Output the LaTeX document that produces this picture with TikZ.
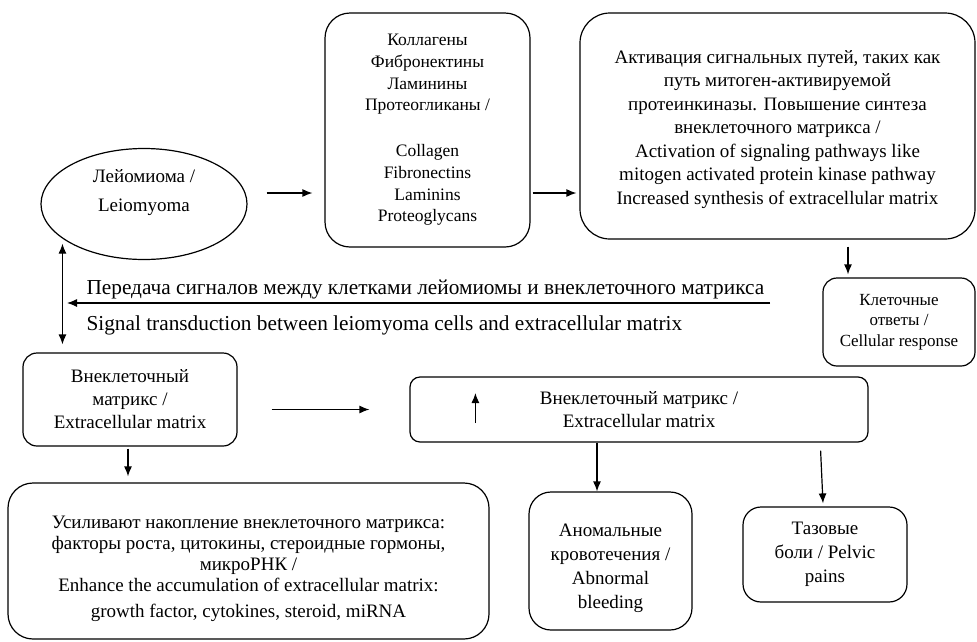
\documentclass[tikz,border=0pt]{standalone}
\usepackage{fontspec}
\setmainfont{Liberation Serif}
\usetikzlibrary{shapes.geometric, arrows.meta, positioning, calc}
\tikzset{
  box/.style={
	draw, % frame of every block
	line width=1.2pt,
	rounded corners=14pt,
	align=center,
	inner sep=0pt,
	font=\fontsize{19}{23.5}\selectfont,
  },
  oval/.style={
	ellipse, draw,
	line width=1.2pt,
	inner sep=0pt,
  },
  arr/.style={
	>={Latex[length=10pt,width=8pt]}, % filled heads
	->,
	line width=1.2pt,
  },
}

\begin{document}
\begin{tikzpicture}[x=1pt, y=-1pt]
	  \useasboundingbox (0,0) rectangle (977,641);

	  % top row
	  \node[oval, minimum width=206pt, minimum height=111pt] (leio) at (144,204) {};
	  \node[align=center, font=\fontsize{19}{29}\selectfont] (leiotext) at ([yshift=11.5pt]leio.center) {Лейомиома /\\Leiomyoma};
	  \node[box, rounded corners=25pt, minimum width=205pt, minimum height=234pt, font=\fontsize{17.5}{21.7}\selectfont] (comp) at (427.5,130) {Коллагены\\Фибронектины\\Ламинины\\Протеогликаны /\\[24pt]Collagen\\Fibronectins\\Laminins\\Proteoglycans};
	  \node[box, rounded corners=30pt, minimum width=395pt, minimum height=226pt] (activ) at (777.5,126) {\rule{0pt}{20pt}Активация сигнальных путей, таких как\\путь митоген-активируемой\\протеинкиназы. Повышение синтеза\\внеклеточного матрикса /\\Activation of signaling pathways like\\mitogen activated protein kinase pathway\\Increased synthesis of extracellular matrix};
	  \node[box, minimum width=152pt, minimum height=88pt, font=\fontsize{17}{20.5}\selectfont] (cellresp) at (899,322) {Клеточные\\ответы /\\Cellular response};

	  % signal transduction
	  \coordinate (sigR) at (770,303);
	  \coordinate (sigL) at (67,303);
	  \node[anchor=west, font=\fontsize{21.3}{25}\selectfont] (sigru) at (83,289) {Передача сигналов между клетками лейомиомы и внеклеточного матрикса};
	  \node[anchor=west, font=\fontsize{21.3}{25}\selectfont] (sigen) at (83,325) {Signal transduction between leiomyoma cells and extracellular matrix};

	  % middle and bottom rows
	  \node[box, minimum width=214pt, minimum height=93pt, font=\fontsize{19}{23}\selectfont] (ecm) at (130,399.5) {Внеклеточный\\матрикс /\\Extracellular matrix};
	  \node[box, rounded corners=10pt, minimum width=458pt, minimum height=65pt] (ecmup) at (639,409.5) {Внеклеточный матрикс /\\Extracellular matrix};
	  \node[box, rounded corners=25pt, minimum width=481pt, minimum height=156pt, font=\fontsize{19}{21}\selectfont] (enhance) at (248.5,561) {\rule{0pt}{28pt}Усиливают накопление внеклеточного матрикса:\\факторы роста, цитокины, стероидные гормоны,\\микроРНК /\\Enhance the accumulation of extracellular matrix:\\[5pt]growth factor, cytokines, steroid, miRNA};
	  \node[box, rounded corners=22pt, minimum width=163pt, minimum height=138pt, font=\fontsize{19}{24}\selectfont] (bleed) at (610.5,561) {\rule{0pt}{27pt}Аномальные\\кровотечения /\\Abnormal\\bleeding};
	  \node[box, rounded corners=18pt, minimum width=164pt, minimum height=95pt, font=\fontsize{19}{24}\selectfont] (pain) at (825,554.5) {Тазовые\\боли / Pelvic\\pains};

	  % connectors
	  \coordinate (crtop) at ([xshift=-51pt]cellresp.north);
	  \coordinate (bltop) at ([xshift=-13.5pt]bleed.north);
	  \coordinate (ecmdown) at ([xshift=-2pt]ecm.south);
	  \draw[arr] ([xshift=19pt,yshift=11pt]leio.east) -- ([xshift=-12pt,yshift=-63pt]comp.west);
	  \draw[arr] ([xshift=2pt,yshift=-63pt]comp.east) -- ([xshift=-3pt,yshift=-67pt]activ.west);
	  \draw[arr, shorten <=7pt, shorten >=3pt] (crtop |- activ.south) -- (crtop);
	  \draw[arr] (sigR) -- (sigL);
	  \draw[arr, <->, shorten <=5pt, shorten >=8pt] (leio.203) -- (leio.203 |- ecm.north);
	  \draw[arr] ([xshift=34pt,yshift=-10pt]ecm.east) -- ([xshift=-40pt]ecmup.west);
	  \draw[arr] ([xshift=66pt,yshift=-13.5pt]ecmup.west) -- ([xshift=66pt,yshift=16.5pt]ecmup.west);
	  \draw[arr] (bltop |- ecmup.south) -- (bltop);
	  \draw[arr] ([xshift=-48pt,yshift=-8pt]ecmup.south east) -- ([xshift=-2pt,yshift=3pt]pain.north);
	  \draw[arr, shorten <=2pt, shorten >=6pt] (ecmdown) -- (ecmdown |- enhance.north);
\end{tikzpicture}
\end{document}
